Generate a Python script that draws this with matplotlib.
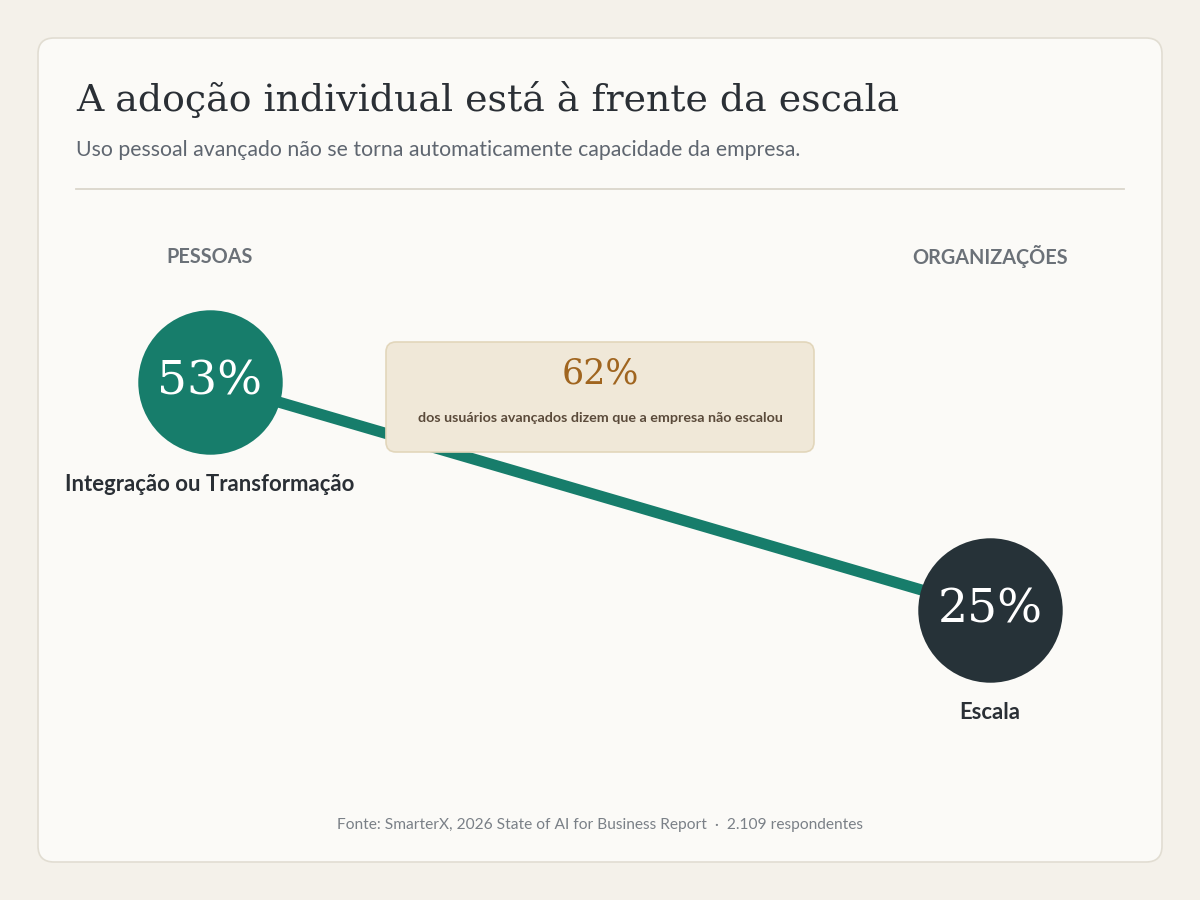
import matplotlib
matplotlib.use("Agg")
import matplotlib.pyplot as plt
from matplotlib.patches import FancyBboxPatch
from matplotlib.lines import Line2D

# data
sides = ["PESSOAS", "ORGANIZAÇÕES"]
labels = ["Integração ou Transformação", "Escala"]
values = [53, 25]
callout_value = 62
callout_text = "dos usuários avançados dizem que a empresa não escalou"
title = "A adoção individual está à frente da escala"
subtitle = "Uso pessoal avançado não se torna automaticamente capacidade da empresa."
source = "Fonte: SmarterX, 2026 State of AI for Business Report  ·  2.109 respondentes"

SERIF = "DejaVu Serif"
SANS = "Lato"
TEAL = "#177d6b"
DARK = "#263238"

fig = plt.figure(figsize=(12, 9), dpi=100)
fig.patch.set_facecolor("#f4f1ea")

# background axes in pixel coordinates
bg = fig.add_axes([0, 0, 1, 1])
bg.set_xlim(0, 1200)
bg.set_ylim(900, 0)
bg.axis("off")

card = FancyBboxPatch((38, 38), 1124, 824, boxstyle="round,pad=0,rounding_size=16",
                      facecolor="#fbfaf7", edgecolor="#e1ddd2", linewidth=1.2)
bg.add_patch(card)

bg.text(76, 100, title, family=SERIF, fontsize=27.3, color="#2a2f35", va="center", ha="left")
bg.text(76, 150, subtitle, family=SANS, fontsize=15.3, color="#5f6670", va="center", ha="left")
bg.add_line(Line2D([76, 1124], [189, 189], color="#dad6cb", linewidth=1.3))

for x, s in zip([210, 990], sides):
    bg.text(x, 257, s, family=SANS, fontsize=14.3, fontweight="bold", color="#6b7178",
            ha="center", va="center")

bg.text(600, 825, source, family=SANS, fontsize=11.2, color="#7a8087", ha="center", va="center")

# data axes: value 53 -> y px 382, value 25 -> y px 610
px_per = (610 - 382) / (values[0] - values[1])
ylo, yhi = 15, 65
top_px = 382 - (yhi - values[0]) * px_per
bot_px = 382 + (values[0] - ylo) * px_per
ax = fig.add_axes([210 / 1200, 1 - bot_px / 900, 780 / 1200, (bot_px - top_px) / 900])
ax.set_xlim(0, 1)
ax.set_ylim(ylo, yhi)
ax.axis("off")
ax.patch.set_alpha(0)

xs = [0, 1]
ax.plot(xs, values, color=TEAL, linewidth=8, solid_capstyle="butt", zorder=1)
colors = [TEAL, DARK]
for x, v, c, lab in zip(xs, values, colors, labels):
    ax.plot([x], [v], marker="o", markersize=104, markerfacecolor=c, markeredgewidth=0,
            zorder=4, clip_on=False)
    ax.text(x, v, f"{v}%", family=SERIF, fontsize=34, color="white", ha="center",
            va="center", zorder=5, clip_on=False)
    ax.annotate(lab, (x, v), xytext=(0, -74), textcoords="offset points",
                family=SANS, fontsize=15.9, fontweight="bold", color="#2a2f35",
                ha="center", va="center", zorder=5, annotation_clip=False)

# callout box above the line
box = FancyBboxPatch((386, 342), 428, 110, boxstyle="round,pad=0,rounding_size=10",
                     facecolor="#f0e8d8", edgecolor="#e2d6bb", linewidth=1.2,
                     transform=bg.transData, zorder=6, clip_on=False)
ax.add_patch(box)
ax.text(600, 374, f"{callout_value}%", family=SERIF, fontsize=25, color="#a0651f",
        ha="center", va="center", transform=bg.transData, zorder=7)
ax.text(600, 418, callout_text, family=SANS, fontsize=10.3, fontweight="bold",
        color="#5a4a3a", ha="center", va="center", transform=bg.transData, zorder=7)

fig.savefig("out.png", dpi=100, facecolor=fig.get_facecolor())
